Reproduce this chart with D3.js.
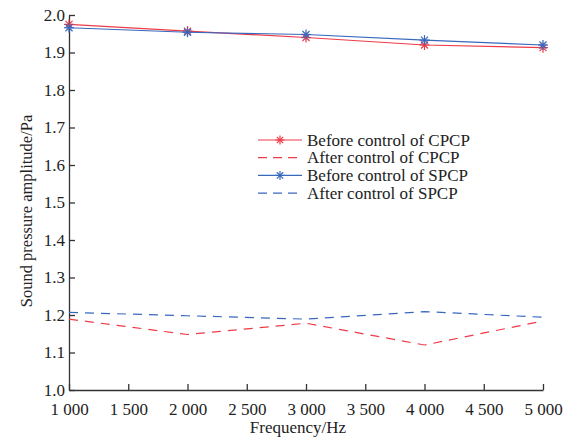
<!DOCTYPE html>
<html>
<head>
<meta charset="utf-8">
<script src="https://cdn.jsdelivr.net/npm/d3@7"></script>
<style>
  body { margin: 0; background: #fff; }
  text { font-family: "Liberation Serif", "Times New Roman", serif; fill: #222; }
</style>
</head>
<body>
<div id="chart"></div>
<script>
// Data
var freqs = [1000, 2000, 3000, 4000, 5000];
var beforeCPCP = [1.975, 1.957, 1.940, 1.920, 1.913];
var afterCPCP = [1.189, 1.148, 1.178, 1.120, 1.184];
var beforeSPCP = [1.966, 1.954, 1.948, 1.933, 1.920];
var afterSPCP = [1.207, 1.198, 1.189, 1.209, 1.194];

var xTicks = [1000, 1500, 2000, 2500, 3000, 3500, 4000, 4500, 5000];
var xTickLabels = ["1 000", "1 500", "2 000", "2 500", "3 000", "3 500", "4 000", "4 500", "5 000"];
var yTicks = [1.0, 1.1, 1.2, 1.3, 1.4, 1.5, 1.6, 1.7, 1.8, 1.9, 2.0];

var seriesNames = ["Before control of CPCP", "After control of CPCP", "Before control of SPCP", "After control of SPCP"];

var width = 580, height = 442;
var margin = { top: 15, right: 37, bottom: 52, left: 69 };

var svg = d3.select("#chart").append("svg")
    .attr("width", width)
    .attr("height", height);

var x = d3.scaleLinear().domain([1000, 5000]).range([margin.left, width - margin.right]);
var y = d3.scaleLinear().domain([1.0, 2.0]).range([height - margin.bottom, margin.top]);

var red = "#ee3b47", blue = "#3868bd";

var series = [
    { name: seriesNames[0], values: beforeCPCP, color: red, dash: null, marker: true },
    { name: seriesNames[1], values: afterCPCP, color: red, dash: "9,7", marker: false },
    { name: seriesNames[2], values: beforeSPCP, color: blue, dash: null, marker: true },
    { name: seriesNames[3], values: afterSPCP, color: blue, dash: "9,7", marker: false }
];

// axes
var xAxis = d3.axisBottom(x).tickValues(xTicks)
    .tickFormat(function(d, i) { return xTickLabels[i]; })
    .tickSizeInner(-6).tickSizeOuter(0).tickPadding(13);
var yAxis = d3.axisLeft(y).tickValues(yTicks)
    .tickFormat(d3.format(".1f"))
    .tickSizeInner(-6).tickSizeOuter(0).tickPadding(4);

var gx = svg.append("g").attr("transform", "translate(0," + (height - margin.bottom) + ")").call(xAxis);
var gy = svg.append("g").attr("transform", "translate(" + margin.left + ",0)").call(yAxis);
[gx, gy].forEach(function(g) {
    g.selectAll("path, line").attr("stroke", "#333").attr("stroke-width", 1.3);
    g.selectAll("text").style("font-size", "17px").attr("fill", "#222");
});

// lines
var line = d3.line()
    .x(function(d, i) { return x(freqs[i]); })
    .y(function(d) { return y(d); });

function star(g, cx, cy, color, r) {
    var angles = [0, 45, 90, 135];
    angles.forEach(function(a) {
        var rad = a * Math.PI / 180;
        g.append("line")
            .attr("x1", cx - r * Math.cos(rad)).attr("y1", cy - r * Math.sin(rad))
            .attr("x2", cx + r * Math.cos(rad)).attr("y2", cy + r * Math.sin(rad))
            .attr("stroke", color).attr("stroke-width", 1.2);
    });
}

series.forEach(function(s) {
    svg.append("path")
        .datum(s.values)
        .attr("d", line)
        .attr("fill", "none")
        .attr("stroke", s.color)
        .attr("stroke-width", 1.2)
        .attr("stroke-dasharray", s.dash);
    if (s.marker) {
        var mg = svg.append("g");
        s.values.forEach(function(v, i) { star(mg, x(freqs[i]), y(v), s.color, 5); });
    }
});

// legend
var legend = svg.append("g").attr("transform", "translate(258,140)");
series.forEach(function(s, i) {
    var row = legend.append("g").attr("transform", "translate(0," + (i * 17.7) + ")");
    row.append("line")
        .attr("x1", 0).attr("x2", 44).attr("y1", 0).attr("y2", 0)
        .attr("stroke", s.color).attr("stroke-width", 1.2)
        .attr("stroke-dasharray", s.dash ? "9,6" : null);
    if (s.marker) star(row, 22, 0, s.color, 4.5);
    row.append("text")
        .attr("x", 49).attr("y", 0).attr("dy", "0.33em")
        .style("font-size", "17px")
        .text(s.name);
});

// axis titles
svg.append("text")
    .attr("x", 298)
    .attr("y", 433)
    .attr("text-anchor", "middle")
    .style("font-size", "17px")
    .text("Frequency/Hz");

svg.append("text")
    .attr("transform", "translate(32,211) rotate(-90)")
    .attr("text-anchor", "middle")
    .style("font-size", "16.5px")
    .text("Sound pressure amplitude/Pa");
</script>
</body>
</html>
